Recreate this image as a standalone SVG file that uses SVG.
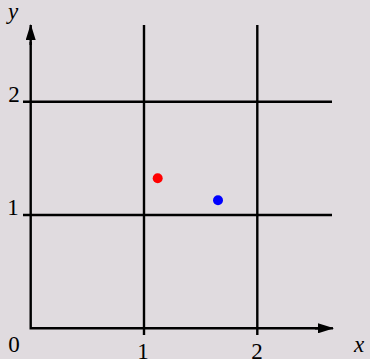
<svg xmlns="http://www.w3.org/2000/svg" width="370" height="359" viewBox="0 0 370 359">
<defs>
<style>
.ln{stroke:#000;stroke-width:2.4;fill:none}
.t{font-family:"Liberation Serif","DejaVu Serif",serif;font-size:23px;fill:#000}
.i{font-style:italic}
</style>
<marker id="ah" viewBox="0 0 16 10" refX="15" refY="5" markerWidth="16" markerHeight="10" markerUnits="userSpaceOnUse" orient="auto">
<path d="M0,0 L16,5 L0,10 Z" fill="#000"/>
</marker>
</defs>
<rect width="370" height="359" fill="#e0dbdf"/>
<g id="grid" class="ln">
<line x1="144" y1="25" x2="144" y2="335"/>
<line x1="257.3" y1="25" x2="257.3" y2="335"/>
<line x1="23" y1="101.7" x2="332" y2="101.7"/>
<line x1="23" y1="215" x2="332" y2="215"/>
</g>
<g id="axes" class="ln">
<polyline points="30.7,42 30.7,328.3 318,328.3"/>
<line x1="30.7" y1="45" x2="30.7" y2="25" marker-end="url(#ah)"/>
<line x1="315" y1="328.3" x2="333" y2="328.3" marker-end="url(#ah)"/>
</g>
<g id="points">
<circle cx="157.7" cy="178.3" r="5" fill="#ff0000"/>
<circle cx="218" cy="200.3" r="5" fill="#0000ff"/>
</g>
<g id="labels">
<text class="t i" x="8" y="19">y</text>
<text class="t i" x="354" y="352">x</text>
<text class="t" x="14" y="352" text-anchor="middle">0</text>
<text class="t" x="143" y="358.5" text-anchor="middle">1</text>
<text class="t" x="257" y="358.5" text-anchor="middle">2</text>
<text class="t" x="14" y="102" text-anchor="middle">2</text>
<text class="t" x="13" y="215" text-anchor="middle">1</text>
</g>
</svg>
